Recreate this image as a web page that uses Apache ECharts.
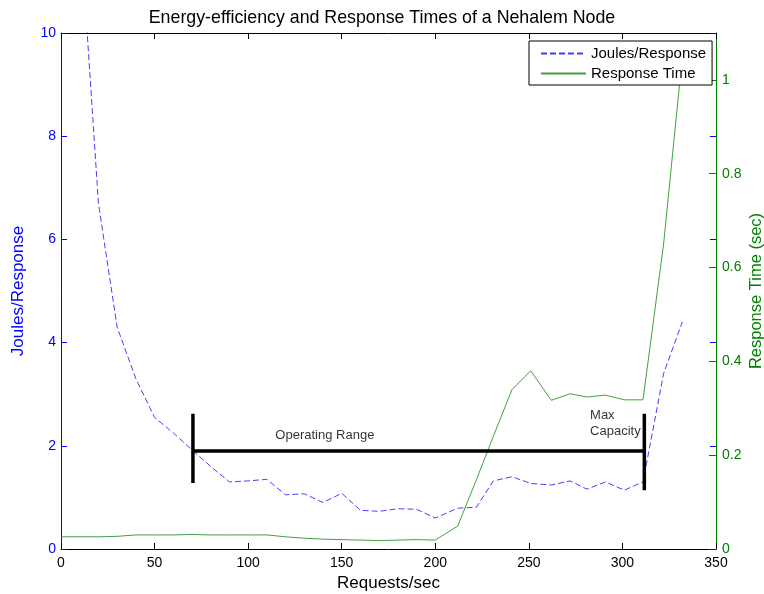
<!DOCTYPE html>
<html>
<head>
<meta charset="utf-8">
<title>Energy-efficiency and Response Times of a Nehalem Node</title>
<script src="https://cdn.jsdelivr.net/npm/echarts@6/dist/echarts.min.js"></script>
<style>
    html, body { margin: 0; padding: 0; background: #fff; }
    #main { width: 764px; height: 594px; }
</style>
</head>
<body>
<div id="main"></div>
<script>
// 数据：请求速率（横轴）
var requestRate = [0, 10, 20, 30, 40, 50, 60, 70, 80, 90, 100, 110, 120, 130, 140, 150, 160, 170, 180, 190, 200,
    212, 222, 231, 241, 251, 262, 272, 281, 291, 301, 311, 322, 332];
// 每次响应的能耗（左轴），第一个点超出坐标范围
var joulesPerResponse = [null, 12.2, 6.7, 4.3, 3.3, 2.55, 2.25, 1.92, 1.6, 1.3, 1.32, 1.35, 1.05, 1.07, 0.9, 1.08, 0.75, 0.73, 0.78, 0.77, 0.6,
    0.79, 0.81, 1.32, 1.4, 1.27, 1.24, 1.32, 1.16, 1.3, 1.14, 1.3, 3.4, 4.4];
// 响应时间（右轴，秒）
var responseTime = [0.026, 0.026, 0.026, 0.027, 0.03, 0.03, 0.03, 0.031, 0.03, 0.03, 0.03, 0.03, 0.026, 0.023, 0.021, 0.02, 0.019, 0.018, 0.019, 0.02, 0.019,
    0.049, 0.148, 0.24, 0.34, 0.38, 0.317, 0.331, 0.324, 0.328, 0.318, 0.318, 0.65, 1.05];
var seriesNames = ['Joules/Response', 'Response Time'];

// 标注：工作区间
var rangeX = [70.5, 311.7];
var rangeLevel = 1.9;
var leftBar = [1.28, 2.62];
var rightBar = [1.14, 2.62];
var rangeLabel = { text: 'Operating Range', x: 141, y: 2.21 };
var capLabel = { text: 'Max\nCapacity', x: 282.7, y: 2.44 };

var font = 'Liberation Sans, Arial, Helvetica, sans-serif';

function pairs(xs, ys) {
    var out = [];
    for (var i = 0; i < xs.length; i++) {
        if (ys[i] !== null) out.push([xs[i], ys[i]]);
    }
    return out;
}

(function () {
    var myChart = echarts.init(document.getElementById('main'));
    var blackLine = { color: '#000', width: 3.5 };
    var gridBox = { left: 61, right: 48, top: 33, bottom: 45, containLabel: false, outerBoundsMode: 'none' };
    var option = {
        animation: false,
        textStyle: { fontFamily: font },
        title: {
            text: 'Energy-efficiency and Response Times of a Nehalem Node',
            left: 'center',
            top: 4,
            textStyle: { fontSize: 17.8, fontWeight: 'normal', color: '#000', fontFamily: font }
        },
        legend: {
            orient: 'vertical',
            left: 529,
            top: 41,
            padding: [5, 6, 4, 11],
            itemWidth: 45,
            itemHeight: 15,
            itemGap: 5,
            borderColor: '#000',
            borderWidth: 1,
            backgroundColor: '#fff',
            itemStyle: { opacity: 0 },
            data: seriesNames,
            textStyle: { fontSize: 15, color: '#000', fontFamily: font }
        },
        // 第二个网格只用来在右边框画蓝色刻度
        grid: [gridBox, gridBox],
        xAxis: [{
            type: 'value',
            min: 0,
            max: 350,
            interval: 50,
            position: 'bottom',
            name: 'Requests/sec',
            nameLocation: 'middle',
            nameGap: 26,
            nameTextStyle: { fontSize: 17, color: '#000' },
            axisLine: { onZero: false, lineStyle: { color: '#000', width: 1 } },
            axisTick: { inside: true, length: 6, lineStyle: { color: '#000' } },
            axisLabel: { fontSize: 14, color: '#000', margin: 7 },
            splitLine: { show: false }
        }, {
            type: 'value',
            min: 0,
            max: 350,
            interval: 50,
            position: 'top',
            axisLine: { onZero: false, lineStyle: { color: '#000', width: 1 } },
            axisTick: { inside: true, length: 6, lineStyle: { color: '#000' } },
            axisLabel: { show: false },
            splitLine: { show: false }
        }, {
            gridIndex: 1,
            type: 'value',
            min: 0,
            max: 350,
            show: false
        }],
        yAxis: [{
            type: 'value',
            min: 0,
            max: 10,
            interval: 2,
            position: 'left',
            name: 'Joules/Response',
            nameLocation: 'middle',
            nameGap: 34,
            nameTextStyle: { fontSize: 17, color: '#0000ff' },
            axisLine: { show: true, onZero: false, lineStyle: { color: '#0000ff' } },
            axisTick: { show: true, inside: true, length: 6, lineStyle: { color: '#0000ff' } },
            axisLabel: { fontSize: 14, color: '#0000ff', margin: 5 },
            splitLine: { show: false }
        }, {
            type: 'value',
            min: 0,
            max: 1.1,
            interval: 0.2,
            position: 'right',
            name: 'Response Time (sec)',
            nameLocation: 'middle',
            nameGap: 32,
            nameMoveOverlap: false,
            nameTextStyle: { fontSize: 16.5, color: '#008000' },
            axisLine: { show: true, onZero: false, lineStyle: { color: '#008000' } },
            axisTick: { show: true, inside: true, length: 7, lineStyle: { color: '#008000' } },
            axisLabel: { fontSize: 14, color: '#008000', margin: 6, showMaxLabel: false },
            splitLine: { show: false }
        }, {
            gridIndex: 1,
            type: 'value',
            min: 0,
            max: 10,
            interval: 2,
            position: 'right',
            axisLine: { show: false, onZero: false },
            axisTick: { show: true, inside: true, length: 6, lineStyle: { color: '#0000ff' } },
            axisLabel: { show: false },
            splitLine: { show: false }
        }],
        series: [{
            name: seriesNames[0],
            type: 'line',
            xAxisIndex: 0,
            yAxisIndex: 0,
            symbol: 'none',
            data: pairs(requestRate, joulesPerResponse),
            lineStyle: { color: '#0000ff', width: 1, type: [6, 3], opacity: 0.75 },
            itemStyle: { color: '#0000ff' }
        }, {
            name: seriesNames[1],
            type: 'line',
            xAxisIndex: 0,
            yAxisIndex: 1,
            symbol: 'none',
            data: pairs(requestRate, responseTime),
            lineStyle: { color: '#008000', width: 1, opacity: 0.75 },
            itemStyle: { color: '#008000' }
        }, {
            // 工作区间横线
            type: 'line',
            yAxisIndex: 0,
            symbol: 'none',
            data: [[rangeX[0], rangeLevel], [rangeX[1], rangeLevel]],
            lineStyle: blackLine,
            silent: true,
            z: 5
        }, {
            type: 'line',
            yAxisIndex: 0,
            symbol: 'none',
            data: [[rangeX[0], leftBar[0]], [rangeX[0], leftBar[1]]],
            lineStyle: blackLine,
            silent: true,
            z: 5
        }, {
            type: 'line',
            yAxisIndex: 0,
            symbol: 'none',
            data: [[rangeX[1], rightBar[0]], [rangeX[1], rightBar[1]]],
            lineStyle: blackLine,
            silent: true,
            z: 5
        }, {
            // 标注文字
            type: 'scatter',
            yAxisIndex: 0,
            symbolSize: 0,
            silent: true,
            data: [
                { value: [rangeLabel.x, rangeLabel.y], label: { formatter: rangeLabel.text, align: 'center' } },
                { value: [capLabel.x, capLabel.y], label: { formatter: capLabel.text, align: 'left', lineHeight: 16 } }
            ],
            label: {
                show: true,
                position: 'inside',
                fontSize: 13,
                color: '#000',
                fontFamily: font
            }
        }]
    };
    myChart.setOption(option);
    window.addEventListener('resize', function () {
        myChart.resize();
    });
})();
</script>
</body>
</html>
